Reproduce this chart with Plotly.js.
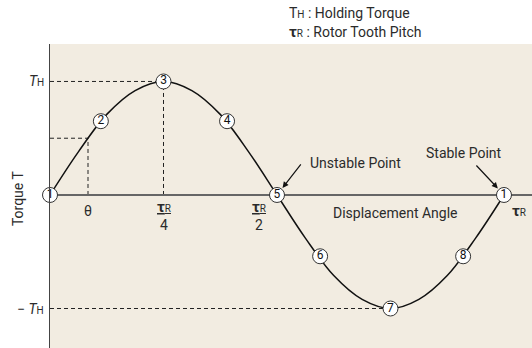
<!DOCTYPE html>
<html>
<head>
<meta charset="utf-8">
<script src="https://cdn.plot.ly/plotly-3.0.1.min.js"></script>
<style>
  html, body { margin: 0; padding: 0; background: #fff; }
  #chart { width: 532px; height: 348px; }
</style>
</head>
<body>
<div id="chart"></div>
<script>
// displacement in rotor tooth pitches, torque in units of holding torque
var curveX = [0, 0.0625, 0.125, 0.1875, 0.25, 0.3125, 0.375, 0.4375, 0.5,
              0.5625, 0.625, 0.6875, 0.75, 0.8125, 0.875, 0.9375, 1.0];
var curveY = [0, 0.38, 0.71, 0.92, 1.0, 0.92, 0.71, 0.38, 0,
              -0.38, -0.71, -0.92, -1.0, -0.92, -0.71, -0.38, 0];

// numbered rotor positions
var pointX = [0, 0.112, 0.25, 0.39, 0.5, 0.595, 0.75, 0.91, 1.0];
var pointY = [0, 0.65, 1.0, 0.65, 0, -0.54, -1.0, -0.54, 0];
var pointLabels = ['1', '2', '3', '4', '5', '6', '7', '8', '1'];

// dashed guides: theta is where torque is half of TH
var thetaX = 0.0837;
var thetaY = 0.5;
var peakX = 0.25;
var troughX = 0.75;
var holdingY = 1.0;

var FONT = 'Roboto, Liberation Sans, sans-serif';
var INK = '#2b2b2b';
var sub = function (s) { return '<span style="font-size:10px">' + s + '</span>'; };
var TAU = '<span style="font-size:15px"><b>τ</b></span>';

var curve = {
  type: 'scatter', mode: 'lines',
  x: curveX, y: curveY,
  line: {color: '#111', width: 1.5, shape: 'spline'},
  hoverinfo: 'skip'
};

var points = {
  type: 'scatter', mode: 'markers+text',
  x: pointX, y: pointY,
  text: pointLabels,
  textposition: 'middle center',
  textfont: {family: FONT, size: 12, color: '#111'},
  marker: {size: 15, color: '#fff', line: {color: '#333', width: 1}},
  cliponaxis: false,
  hoverinfo: 'skip'
};

var dash = {color: '#222', width: 1, dash: '4px,3px'};
function seg(x0, y0, x1, y1) {
  return {type: 'line', xref: 'x', yref: 'y', x0: x0, y0: y0, x1: x1, y1: y1, line: dash, layer: 'below'};
}
var shapes = [
  seg(0, holdingY, peakX, holdingY),
  seg(peakX, 0, peakX, holdingY),
  seg(0, thetaY, thetaX, thetaY),
  seg(thetaX, 0, thetaX, thetaY),
  seg(0, -holdingY, troughX, -holdingY)
];

function label(text, x, y, opts) {
  return Object.assign({
    text: text, x: x, y: y, xref: 'x', yref: 'y', showarrow: false,
    font: {family: FONT, size: 14, color: INK}
  }, opts || {});
}

var annotations = [
  // legend lines
  {text: 'T' + sub('H') + ' : Holding Torque', xref: 'paper', yref: 'paper', x: 0.4917, y: 1.102,
   xanchor: 'left', yanchor: 'middle', showarrow: false, font: {family: FONT, size: 14, color: INK}},
  {text: TAU + sub('R') + ' : Rotor Tooth Pitch', xref: 'paper', yref: 'paper', x: 0.4917, y: 1.0395,
   xanchor: 'left', yanchor: 'middle', showarrow: false, font: {family: FONT, size: 14, color: INK}},
  // y labels
  {text: 'Torque T', xref: 'paper', yref: 'paper', x: -0.0664, y: 0.493, textangle: -90,
   xanchor: 'center', yanchor: 'middle', showarrow: false, font: {family: FONT, size: 14, color: INK}},
  {text: '<i>T</i>' + sub('H'), xref: 'paper', yref: 'y', x: -0.008, y: holdingY,
   xanchor: 'right', showarrow: false, font: {family: FONT, size: 14, color: INK}},
  {text: '− <i>T</i>' + sub('H'), xref: 'paper', yref: 'y', x: -0.008, y: -holdingY,
   xanchor: 'right', showarrow: false, font: {family: FONT, size: 14, color: INK}},
  // x labels
  label('θ', thetaX, 0, {yshift: -16}),
  label('<u>' + TAU + sub('R') + '</u><br>4', peakX, 0, {yshift: -21}),
  label('<u>' + TAU + sub('R') + '</u><br>2', 0.5, 0, {xshift: -18, yshift: -21}),
  label(TAU + sub('R'), 1.0, 0, {xshift: 15, yshift: -16}),
  label('Displacement Angle', 0.76, 0, {yshift: -18}),
  // stability notes
  label('Unstable Point', 0.568, 0, {xanchor: 'left', yshift: 32}),
  label('Stable Point', 0.912, 0, {yshift: 42}),
  {text: '', x: 0.5, y: 0, xref: 'x', yref: 'y', showarrow: true, ax: 25, ay: -32,
   arrowhead: 2, arrowsize: 1, arrowwidth: 1.2, arrowcolor: '#111', standoff: 9},
  {text: '', x: 1.0, y: 0, xref: 'x', yref: 'y', showarrow: true, ax: -29, ay: -31,
   arrowhead: 2, arrowsize: 1, arrowwidth: 1.2, arrowcolor: '#111', standoff: 9}
];

var layout = {
  width: 532, height: 348,
  margin: {l: 50, r: 0, t: 44, b: 0},
  paper_bgcolor: '#fff',
  plot_bgcolor: '#f2ece1',
  showlegend: false,
  xaxis: {range: [0, 1.0617], showgrid: false, zeroline: false, showticklabels: false,
          ticks: '', fixedrange: true},
  yaxis: {range: [-1.348, 1.330], showgrid: false, showticklabels: false, ticks: '',
          zeroline: true, zerolinecolor: '#666', zerolinewidth: 1.5,
          showline: true, linecolor: '#444', linewidth: 1.5, fixedrange: true},
  shapes: shapes,
  annotations: annotations
};

Plotly.newPlot('chart', [curve, points], layout, {displayModeBar: false, staticPlot: true});
</script>
</body>
</html>
